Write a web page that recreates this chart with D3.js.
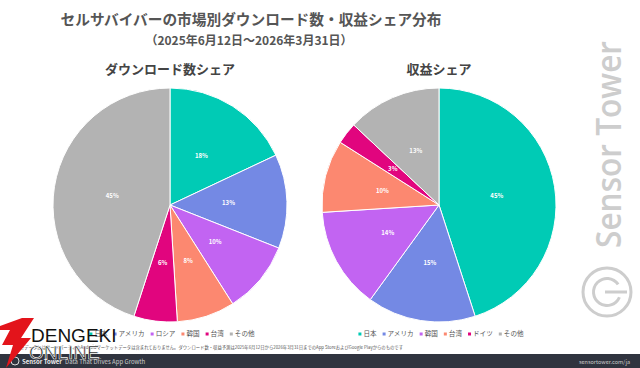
<!DOCTYPE html>
<html>
<head>
<meta charset="utf-8">
<script src="https://cdn.jsdelivr.net/npm/d3@7"></script>
<style>
  body { margin: 0; background: #fff; }
  svg { display: block; font-family: "Noto Sans CJK JP", "Noto Sans", sans-serif; }
</style>
</head>
<body>
<script>
(function() {

    // chart data
    var dlLabels = ["日本", "アメリカ", "ロシア", "韓国", "台湾", "その他"];
    var dlValues = [18, 13, 10, 8, 6, 45];

    var revLabels = ["日本", "アメリカ", "韓国", "台湾", "ドイツ", "その他"];
    var revValues = [45, 15, 14, 10, 3, 13];

    var colors = ["#00CBB5", "#7489E4", "#C264F2", "#FC8870", "#E1057E", "#B3B3B3"];

    var width = 640, height = 368;

    var svg = d3.select("body").append("svg")
        .attr("width", width)
        .attr("height", height);

    // titles
    svg.append("text")
        .attr("x", 251).attr("y", 25)
        .attr("text-anchor", "middle")
        .style("font-size", "14.7px").style("font-weight", "bold")
        .style("fill", "#555")
        .text("セルサバイバーの市場別ダウンロード数・収益シェア分布");

    svg.append("text")
        .attr("x", 249).attr("y", 45)
        .attr("text-anchor", "middle")
        .style("font-size", "12px").style("font-weight", "bold")
        .style("fill", "#555")
        .text("（2025年6月12日～2026年3月31日）");

    // watermark (sensor tower)
    var wm = svg.append("g").attr("transform", "translate(621,248) rotate(-90)");
    wm.append("text")
        .attr("x", 0).attr("y", 0)
        .attr("textLength", 207)
        .attr("lengthAdjust", "spacingAndGlyphs")
        .style("font-family", "'Open Sans', sans-serif")
        .style("font-size", "35px").style("font-weight", "600")
        .style("fill", "#cdcdcd")
        .text("Sensor Tower");
    var logo = svg.append("g").attr("transform", "translate(607,292)");
    logo.append("circle").attr("r", 24)
        .style("fill", "none").style("stroke", "#cdcdcd").style("stroke-width", 3);
    logo.append("path")
        .attr("d", d3.arc()({innerRadius: 12, outerRadius: 15, startAngle: 0.4, endAngle: 2 * Math.PI - 0.6}))
        .attr("transform", "rotate(90)")
        .style("fill", "#cdcdcd");
    logo.append("rect").attr("x", -2).attr("y", -1.5).attr("width", 22).attr("height", 3)
        .style("fill", "#cdcdcd");

    drawPie(dlLabels, dlValues, 170, 205, "ダウンロード数シェア");
    drawPie(revLabels, revValues, 439, 205, "収益シェア");

    function drawPie(labels, values, cx, cy, title) {
        var r = 117;
        var pie = d3.pie().sort(null).value(function(d) { return d; });
        var arc = d3.arc().innerRadius(0).outerRadius(r);
        var labelArc = d3.arc().innerRadius(r * 0.5).outerRadius(r * 0.5);

        svg.append("text")
            .attr("x", cx).attr("y", 74)
            .attr("text-anchor", "middle")
            .style("font-size", "13px").style("font-weight", "bold")
            .style("fill", "#444")
            .text(title);

        var g = svg.append("g").attr("transform", "translate(" + cx + "," + cy + ")");
        var arcs = pie(values);

        g.selectAll("path")
            .data(arcs)
            .enter()
            .append("path")
            .attr("d", arc)
            .style("fill", function(d, i) { return colors[i]; })
            .style("stroke", "#fff")
            .style("stroke-width", 1);

        g.selectAll(".lbl")
            .data(arcs)
            .enter()
            .append("text")
            .attr("class", "lbl")
            .attr("transform", function(d) { return "translate(" + labelArc.centroid(d) + ")"; })
            .attr("text-anchor", "middle")
            .attr("dy", "0.35em")
            .style("font-size", "6px").style("font-weight", "bold")
            .style("fill", "#fff")
            .text(function(d) { return d.data + "%"; });

        // legend
        var leg = svg.append("g");
        var x = 0;
        labels.forEach(function(lab, i) {
            var item = leg.append("g").attr("transform", "translate(" + x + ",0)");
            item.append("rect").attr("x", 0).attr("y", -1.5).attr("width", 3).attr("height", 3)
                .style("fill", colors[i]);
            var t = item.append("text").attr("x", 5).attr("y", 0).attr("dy", "0.35em")
                .style("font-size", "6.6px").style("fill", "#555").text(lab);
            x += 5 + t.node().getComputedTextLength() + 6;
        });
        leg.attr("transform", "translate(" + (cx + 2 - (x - 6) / 2) + ",334)");
    }

    // footnote
    svg.append("text")
        .attr("x", 20).attr("y", 349)
        .attr("textLength", 383)
        .attr("lengthAdjust", "spacingAndGlyphs")
        .style("font-size", "4.6px").style("fill", "#555")
        .text("※データにはサードパーティのAndroidマーケットデータは含まれておりません。ダウンロード数・収益予測は2025年6月12日から2026年3月31日までのApp StoreおよびGoogle Playからのものです");

    // footer bar
    svg.append("rect").attr("x", 0).attr("y", 354).attr("width", width).attr("height", 14)
        .style("fill", "#30343f");
    svg.append("circle").attr("cx", 15).attr("cy", 361).attr("r", 4)
        .style("fill", "none").style("stroke", "#ddd").style("stroke-width", 1);
    svg.append("text").attr("x", 22).attr("y", 363.5)
        .style("font-size", "6px").style("font-weight", "bold").style("fill", "#eee")
        .text("Sensor Tower");
    svg.append("text").attr("x", 65).attr("y", 363.5)
        .style("font-size", "6px").style("fill", "#ccc")
        .text("Data That Drives App Growth");
    svg.append("text").attr("x", 630).attr("y", 363.5)
        .attr("text-anchor", "end")
        .style("font-size", "5.5px").style("fill", "#ccc")
        .text("sensortower.com/ja");

    // dengeki online watermark
    svg.append("path")
        .attr("d", "M22,318 L34,318 L21,338 L31,338 L6,368 L13,345 L2,345 L10,330 L0,330 L0,326 Z")
        .style("fill", "#e3141b");
    svg.append("text").attr("x", 31).attr("y", 342)
        .style("font-family", "'Liberation Sans', sans-serif")
        .style("font-size", "19px").style("fill", "#111")
        .text("DENGEKI");
    svg.append("text").attr("x", 29).attr("y", 359)
        .style("font-family", "'Liberation Sans', sans-serif")
        .style("font-size", "19px").style("fill", "#111").style("stroke", "#fff").style("stroke-width", 0.6)
        .text("ONLINE");

})();
</script>
</body>
</html>
